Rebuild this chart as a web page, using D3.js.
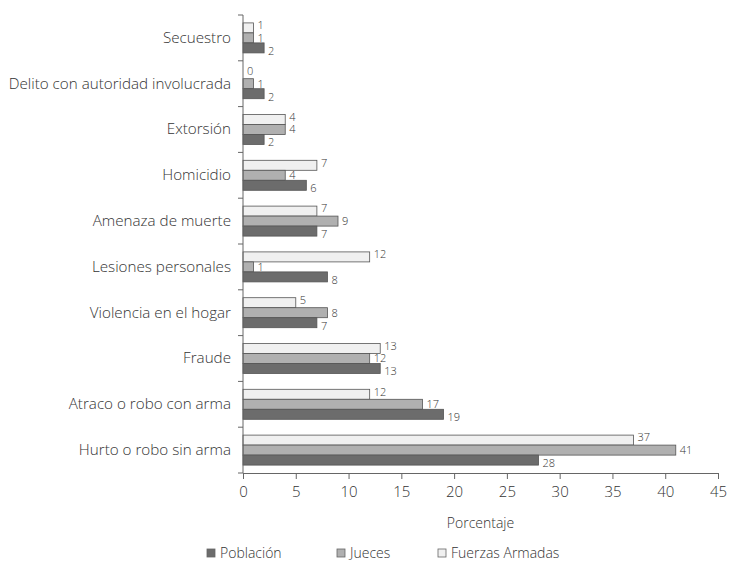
<!DOCTYPE html>
<html><head><meta charset="utf-8">
<script src="https://cdn.jsdelivr.net/npm/d3@7"></script>
<style>body{margin:0;background:#fff;} text{font-family:"Open Sans",sans-serif;font-weight:300;}</style>
</head><body>
<svg id="c" width="733" height="564"></svg>
<script>
const categories = ["Secuestro","Delito con autoridad involucrada","Extorsión","Homicidio","Amenaza de muerte","Lesiones personales","Violencia en el hogar","Fraude","Atraco o robo con arma","Hurto o robo sin arma"];
const seriesNames = ["Fuerzas Armadas","Jueces","Población"];
const fuerzas = [1,0,4,7,7,12,5,13,12,37];
const jueces = [1,1,4,4,9,1,8,12,17,41];
const poblacion = [2,2,2,6,7,8,7,13,19,28];
const xTicks = [0,5,10,15,20,25,30,35,40,45];
const legendOrder = ["Población","Jueces","Fuerzas Armadas"];
const colors = {"Fuerzas Armadas":"#f0f0f0","Jueces":"#b0b0b0","Población":"#6c6c6c"};
const values = {"Fuerzas Armadas":fuerzas,"Jueces":jueces,"Población":poblacion};

const svg = d3.select("#c");
const pLeft = 243, pTop = 15, pBottom = 473, pRight = 718;
const x = d3.scaleLinear().domain([0,45]).range([pLeft,pRight]);
const y = d3.scaleBand().domain(categories).range([pTop,pBottom]).paddingInner(0.345).paddingOuter(0.1725);
const ys = d3.scaleBand().domain(seriesNames).range([0,y.bandwidth()]);
const labelShift = {"Fuerzas Armadas":-2.5,"Jueces":0,"Población":3};

// bars
const g = svg.append("g");
seriesNames.forEach(s=>{
  categories.forEach((c,i)=>{
    const v = values[s][i];
    g.append("rect").attr("x",x(0)).attr("y",y(c)+ys(s))
     .attr("width",Math.max(0,x(v)-x(0))).attr("height",ys.bandwidth())
     .attr("fill",colors[s]).attr("stroke",v>0?"#555":"none").attr("stroke-width",0.8);
    g.append("text").attr("x",x(v)+4).attr("y",y(c)+ys(s)+ys.bandwidth()/2+labelShift[s])
     .attr("dy","0.35em").attr("font-size",11).attr("fill","#333").text(v);
  });
});

// y axis labels
const ya = svg.append("g").attr("transform",`translate(${pLeft},0)`)
  .call(d3.axisLeft(y).tickSize(0).tickPadding(12));
ya.select(".domain").remove();
ya.selectAll("text").attr("font-size",15.2).attr("fill","#333").attr("font-family","Open Sans");
// y axis line and boundary ticks
const step = y.step();
const bounds = categories.map(c=>y(c)-step*0.345/2).concat([pBottom]);
svg.append("line").attr("x1",pLeft).attr("x2",pLeft).attr("y1",pTop).attr("y2",pBottom).attr("stroke","#666");
svg.selectAll(".yt").data(bounds).enter().append("line")
  .attr("x1",pLeft-5).attr("x2",pLeft).attr("y1",d=>d).attr("y2",d=>d).attr("stroke","#666");

// x axis
const xa = svg.append("g").attr("transform",`translate(0,${pBottom})`)
  .call(d3.axisBottom(x).tickValues(xTicks).tickSize(6).tickPadding(7));
xa.select(".domain").attr("stroke","#666");
xa.selectAll("line").attr("stroke","#666");
xa.selectAll("text").attr("font-size",15).attr("fill","#333").attr("font-family","Open Sans");

svg.append("text").attr("x",(pLeft+pRight)/2).attr("y",528).attr("text-anchor","middle")
  .attr("font-size",14).attr("fill","#333").text("Porcentaje");

// legend
const lx = [207,337,438];
legendOrder.forEach((s,i)=>{
  svg.append("rect").attr("x",lx[i]).attr("y",549).attr("width",8).attr("height",8)
    .attr("fill",colors[s]).attr("stroke","#666").attr("stroke-width",0.8);
  svg.append("text").attr("x",lx[i]+13).attr("y",558).attr("font-size",14).attr("fill","#333").text(s);
});
</script>
</body></html>
